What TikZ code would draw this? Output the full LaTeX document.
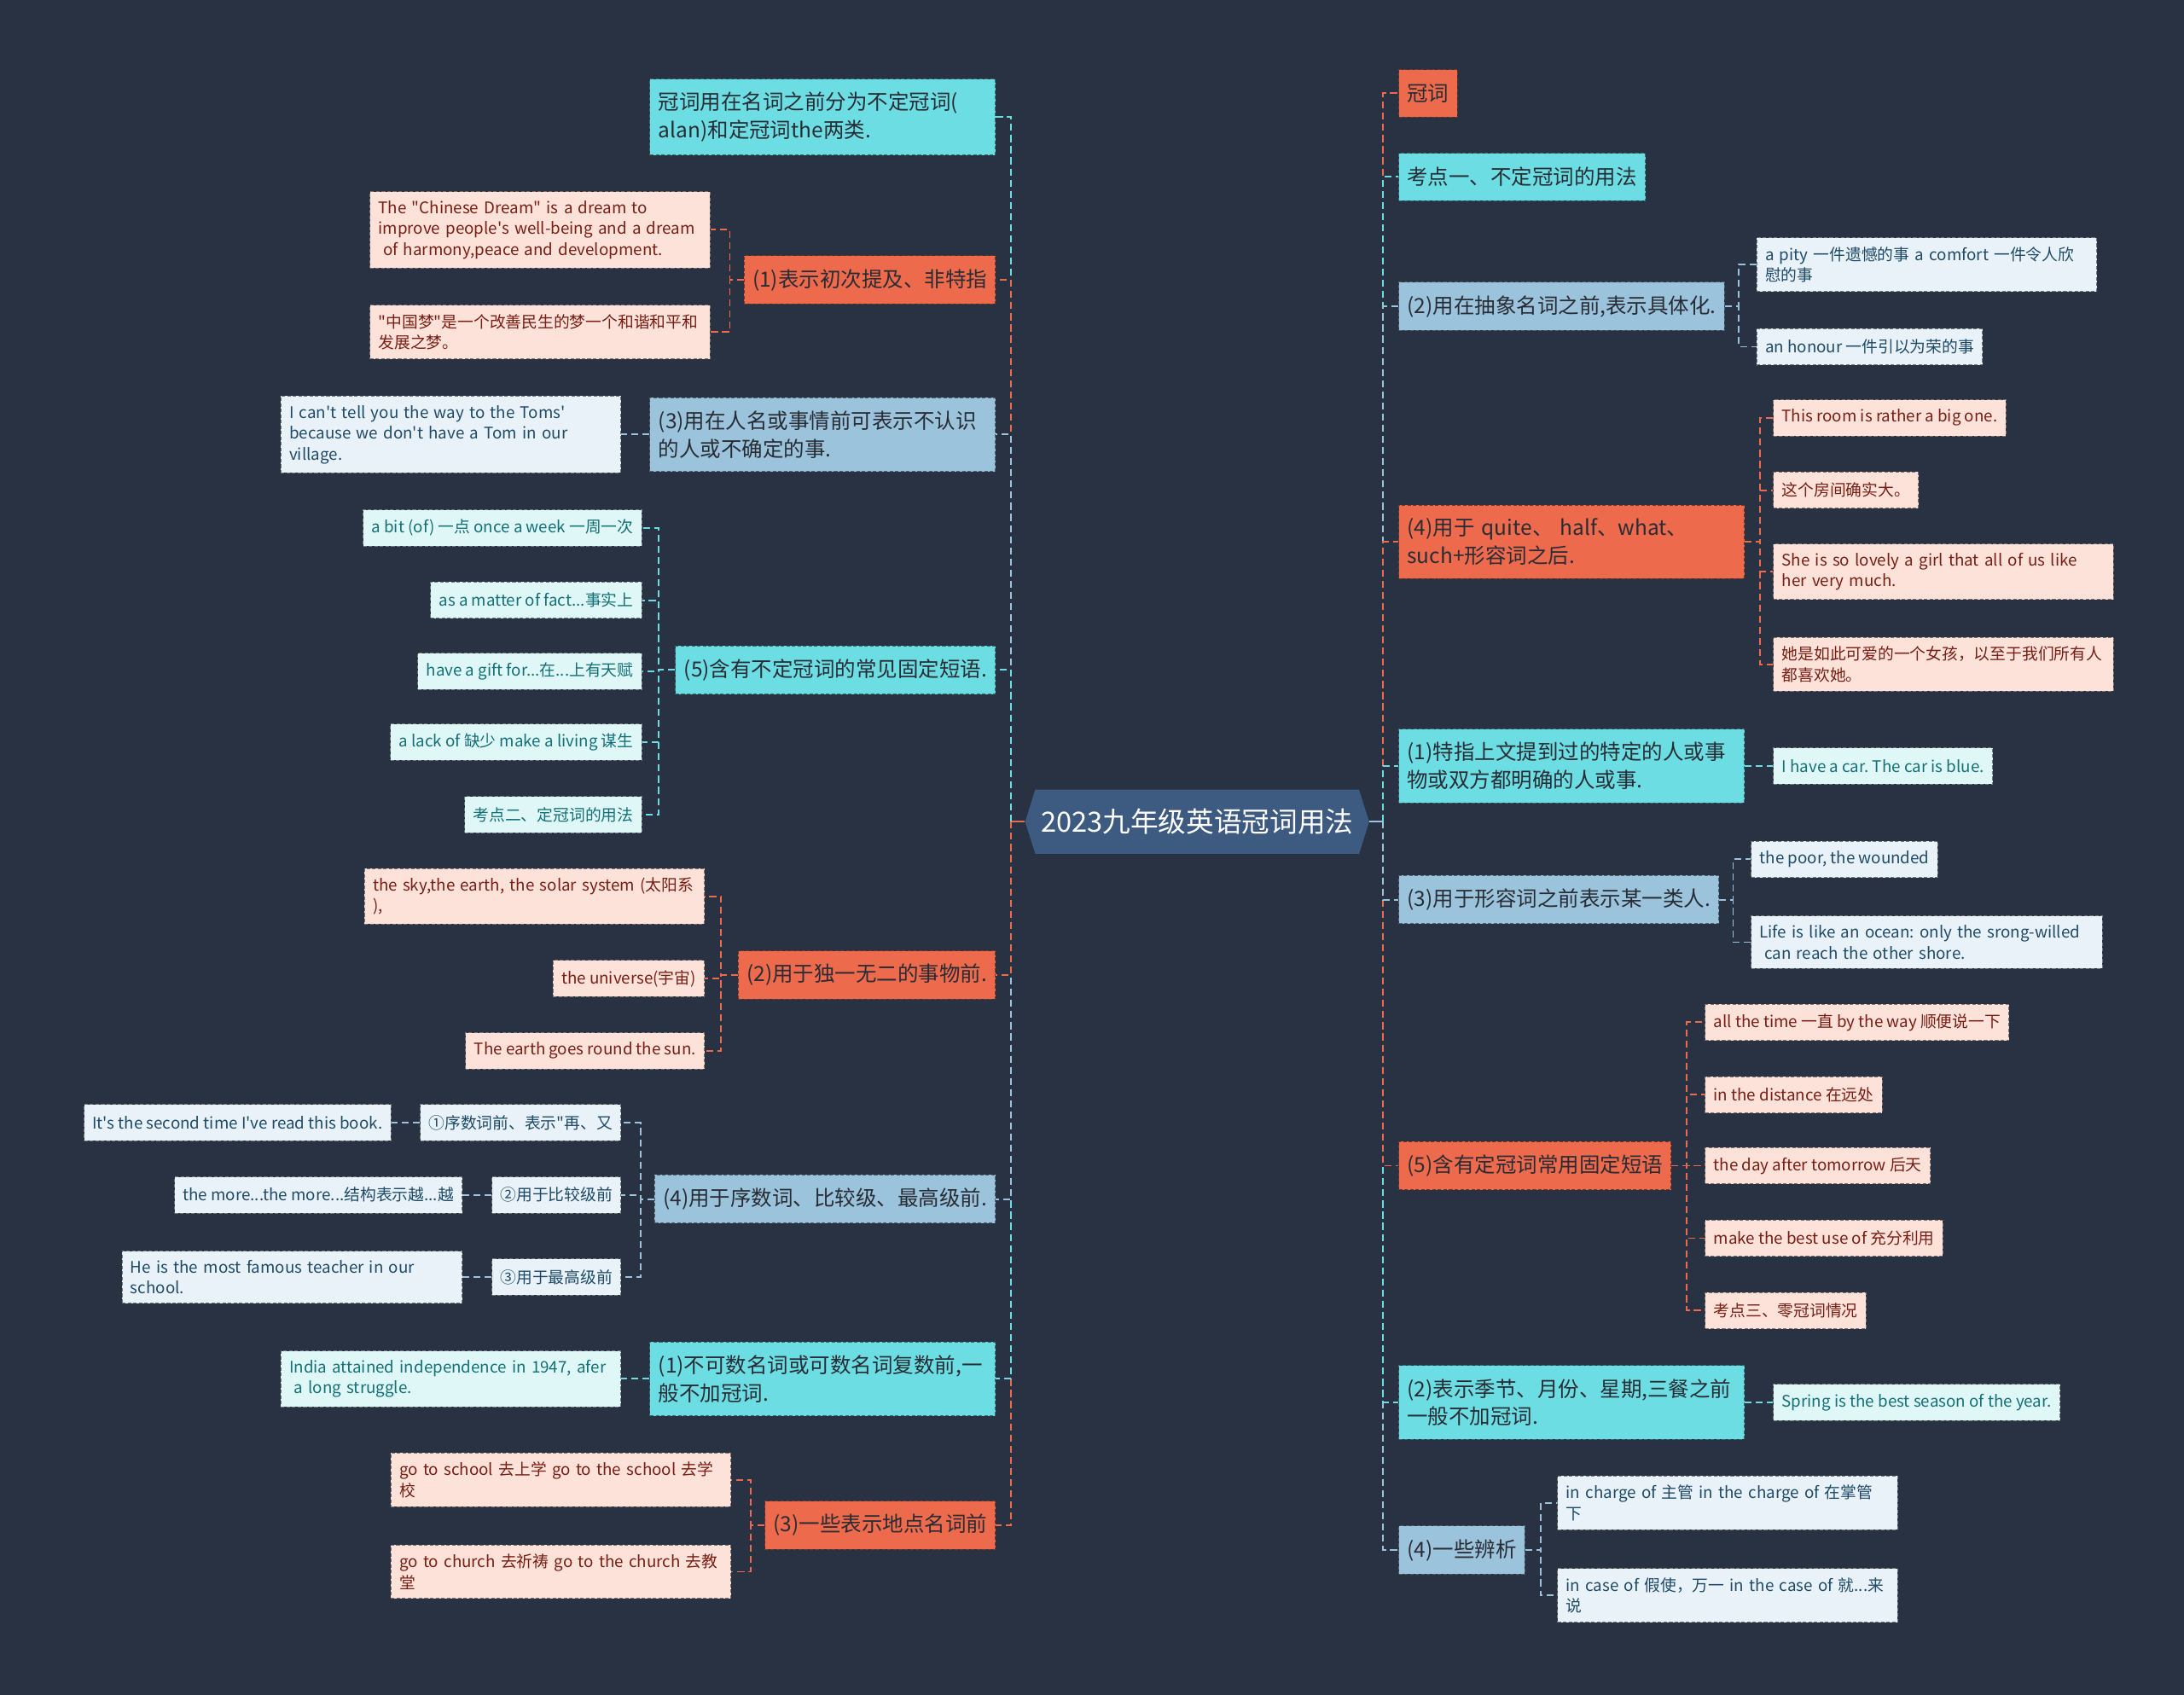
\documentclass[tikz,border=0pt]{standalone}
\usepackage{fontspec}
\newfontfamily\mapfont{Noto Sans CJK SC}
\usepackage{tikz}
\usetikzlibrary{shapes.symbols}
\definecolor{MapBg}{RGB}{41,50,66}
\definecolor{MapRoot}{RGB}{61,90,128}
\definecolor{MapCyan}{RGB}{108,222,227}
\definecolor{MapRed}{RGB}{238,106,77}
\definecolor{MapBlue}{RGB}{156,195,220}
\definecolor{MapInk}{RGB}{40,44,52}
\definecolor{PinkBg}{RGB}{253,226,218}
\definecolor{PinkInk}{RGB}{120,30,20}
\definecolor{AquaBg}{RGB}{224,247,248}
\definecolor{AquaInk}{RGB}{18,112,118}
\definecolor{IceBg}{RGB}{233,242,248}
\definecolor{IceInk}{RGB}{30,74,104}

\tikzset{
  box/.style={align=left, inner xsep=6pt, draw, line width=0.6pt,
              dash pattern=on 2.5pt off 1.5pt},
  topic/.style={box, font=\mapfont\fontsize{15}{20}\selectfont\frenchspacing,
                inner ysep=9.5pt, minimum height=34pt, text=MapInk},
  leaf/.style={box, font=\mapfont\fontsize{11.5}{15}\selectfont\frenchspacing,
               inner ysep=6.5pt, minimum height=26pt},
  cyantopic/.style={topic, fill=MapCyan, draw=MapCyan!50!black},
  redtopic/.style={topic, fill=MapRed, draw=MapRed!50!black},
  bluetopic/.style={topic, fill=MapBlue, draw=MapBlue!50!black},
  pinkleaf/.style={leaf, fill=PinkBg, text=PinkInk, draw=PinkBg!50!black},
  aqualeaf/.style={leaf, fill=AquaBg, text=AquaInk, draw=AquaBg!50!black},
  iceleaf/.style={leaf, fill=IceBg, text=IceInk, draw=IceBg!50!black},
  twoline/.style={text width=236pt},
  wide/.style={text width=232pt},
  lside/.style={anchor=east},
  rside/.style={anchor=west},
  conn/.style={line width=1.1pt, dash pattern=on 5pt off 3pt},
  root/.style={signal, signal to=west and east, signal pointer angle=145,
               fill=MapRoot, text=white, font=\mapfont\fontsize{20}{24}\selectfont,
               minimum width=247pt, minimum height=46pt, inner xsep=4pt}
}

\begin{document}
\begin{tikzpicture}[x=1pt, y=-1pt]
  \fill[MapBg] (0,0) rectangle (1568,1217);
  \useasboundingbox (0,0) rectangle (1568,1217);

  % Root
  \node[root] (root) at (859.5,590) {2023九年级英语冠词用法};
  \coordinate (lhub) at (726,590);
  \coordinate (rhub) at (993,590);

  % Left side: topics
  \node[cyantopic, twoline, lside] (a1) at (715,84) {冠词用在名词之前分为不定冠词(\\alan)和定冠词the两类.};
  \node[redtopic, lside] (a2) at (715,201) {(1)表示初次提及、非特指};
  \node[bluetopic, twoline, lside] (a3) at (715,312) {(3)用在人名或事情前可表示不认识\\的人或不确定的事.};
  \node[cyantopic, lside] (a4) at (715,481) {(5)含有不定冠词的常见固定短语.};
  \node[redtopic, lside] (a5) at (715,700) {(2)用于独一无二的事物前.};
  \node[bluetopic, lside] (a6) at (715,861) {(4)用于序数词、比较级、最高级前.};
  \node[cyantopic, twoline, lside] (a7) at (715,990) {(1)不可数名词或可数名词复数前,一\\般不加冠词.};
  \node[redtopic, lside] (a8) at (715,1095) {(3)一些表示地点名词前};

  % Left side: details
  \node[pinkleaf, wide, lside] (a2l1) at (510,165) {The "Chinese Dream" is a dream to\\improve people's well-being and a dream\\\hspace*{0.3em}of harmony,peace and development.};
  \node[pinkleaf, wide, lside] (a2l2) at (510,238.5) {"中国梦"是一个改善民生的梦一个和谐和平和\\发展之梦。};
  \node[iceleaf, wide, lside] (a3l) at (446,312) {I can't tell you the way to the Toms'\\because we don't have a Tom in our\\village.};
  \foreach \i/\y/\t in {1/379/{a bit (of) 一点 once a week 一周一次},
                        2/431/{as a matter of fact...事实上},
                        3/482/{have a gift for...在...上有天赋},
                        4/533/{a lack of 缺少 make a living 谋生},
                        5/585/{考点二、定冠词的用法}}
    \node[aqualeaf, lside] (a4l\i) at (461,\y) {\t};
  \node[pinkleaf, wide, lside] (a5l1) at (506,643.5) {the sky,the earth, the solar system (太阳系\\),};
  \node[pinkleaf, lside] (a5l2) at (506,702.5) {the universe(宇宙)};
  \node[pinkleaf, lside] (a5l3) at (506,754.5) {The earth goes round the sun.};
  \node[iceleaf, lside] (a6s1) at (446,806) {①序数词前、表示"再、又};
  \node[iceleaf, lside] (a6s2) at (446,858) {②用于比较级前};
  \node[iceleaf, lside] (a6s3) at (446,917) {③用于最高级前};
  \node[iceleaf, lside] (a6e1) at (281,806) {It's the second time I've read this book.};
  \node[iceleaf, lside] (a6e2) at (332,858) {the more...the more...结构表示越...越};
  \node[iceleaf, wide, lside] (a6e3) at (332,917) {He is the most famous teacher in our\\school.};
  \node[aqualeaf, wide, lside] (a7l) at (446,990) {India attained independence in 1947, afer\\\hspace*{0.3em}a long struggle.};
  \node[pinkleaf, wide, lside] (a8l1) at (525,1062.5) {go to school 去上学 go to the school 去学\\校};
  \node[pinkleaf, wide, lside] (a8l2) at (525,1128.5) {go to church 去祈祷 go to the church 去教\\堂};

  % Right side: topics
  \node[redtopic, rside] (b1) at (1004,67) {冠词};
  \node[cyantopic, rside] (b2) at (1004,127) {考点一、不定冠词的用法};
  \node[bluetopic, rside] (b3) at (1004,220) {(2)用在抽象名词之前,表示具体化.};
  \node[redtopic, twoline, rside] (b4) at (1004,389) {(4)用于 quite、 half、what、\\such+形容词之后.};
  \node[cyantopic, twoline, rside] (b5) at (1004,550) {(1)特指上文提到过的特定的人或事\\物或双方都明确的人或事.};
  \node[bluetopic, rside] (b6) at (1004,646) {(3)用于形容词之前表示某一类人.};
  \node[redtopic, rside] (b7) at (1004,837) {(5)含有定冠词常用固定短语};
  \node[cyantopic, twoline, rside] (b8) at (1004,1007) {(2)表示季节、月份、星期,三餐之前\\一般不加冠词.};
  \node[bluetopic, rside] (b9) at (1004,1113) {(4)一些辨析};

  % Right side: details
  \node[iceleaf, wide, rside] (b3l1) at (1261,190) {a pity 一件遗憾的事 a comfort 一件令人欣\\慰的事};
  \node[iceleaf, rside] (b3l2) at (1261,249) {an honour 一件引以为荣的事};
  \node[pinkleaf, rside] (b4l1) at (1273,300) {This room is rather a big one.};
  \node[pinkleaf, rside] (b4l2) at (1273,352) {这个房间确实大。};
  \node[pinkleaf, wide, rside] (b4l3) at (1273,410.5) {She is so lovely a girl that all of us like\\her very much.};
  \node[pinkleaf, wide, rside] (b4l4) at (1273,477) {她是如此可爱的一个女孩，以至于我们所有人\\都喜欢她。};
  \node[aqualeaf, rside] (b5l) at (1273,550) {I have a car. The car is blue.};
  \node[iceleaf, rside] (b6l1) at (1257,617) {the poor, the wounded};
  \node[iceleaf, text width=240pt, rside] (b6l2) at (1257,676.5) {Life is like an ocean: only the srong-willed\\\hspace*{0.3em}can reach the other shore.};
  \foreach \i/\y/\t in {1/734/{all the time 一直 by the way 顺便说一下},
                        2/786/{in the distance 在远处},
                        3/837/{the day after tomorrow 后天},
                        4/889/{make the best use of 充分利用},
                        5/941/{考点三、零冠词情况}}
    \node[pinkleaf, rside] (b7l\i) at (1224,\y) {\t};
  \node[aqualeaf, rside] (b8l) at (1273,1007) {Spring is the best season of the year.};
  \node[iceleaf, wide, rside] (b9l1) at (1118,1079) {in charge of 主管 in the charge of 在掌管\\下};
  \node[iceleaf, wide, rside] (b9l2) at (1118,1145.5) {in case of 假使，万一 in the case of 就...来\\说};

  % Connectors from the root, outer ones first
  \draw[line width=1.4pt, MapRed] (root.west) -- (lhub);
  \draw[line width=1.4pt, MapBlue] (root.east) -- (rhub);
  \foreach \n/\c in {a1/MapCyan, a2/MapRed, a3/MapBlue, a4/MapCyan,
                     a8/MapRed, a7/MapCyan, a6/MapBlue, a5/MapRed}
    \draw[conn, draw=\c] (lhub) |- (\n.east);
  \foreach \n/\c in {b1/MapRed, b2/MapCyan, b3/MapBlue, b4/MapRed, b5/MapCyan,
                     b9/MapBlue, b8/MapCyan, b7/MapRed, b6/MapBlue}
    \draw[conn, draw=\c] (rhub) |- (\n.west);

  % Connectors to the details
  \foreach \n in {a2l1,a2l2} \draw[conn, draw=MapRed] (a2.west) -- ++(-10,0) |- (\n.east);
  \draw[conn, draw=MapBlue] (a3.west) -- (a3l.east);
  \foreach \i in {1,...,5} \draw[conn, draw=MapCyan] (a4.west) -- ++(-12,0) |- (a4l\i.east);
  \foreach \n in {a5l1,a5l2,a5l3} \draw[conn, draw=MapRed] (a5.west) -- ++(-12,0) |- (\n.east);
  \foreach \i in {1,2,3} {
    \draw[conn, draw=MapBlue] (a6.west) -- ++(-10,0) |- (a6s\i.east);
    \draw[conn, draw=MapBlue] (a6s\i.west) -- (a6e\i.east);
  }
  \draw[conn, draw=MapCyan] (a7.west) -- (a7l.east);
  \foreach \n in {a8l1,a8l2} \draw[conn, draw=MapRed] (a8.west) -- ++(-10,0) |- (\n.east);

  \foreach \n in {b3l1,b3l2} \draw[conn, draw=MapBlue] (b3.east) -- ++(10,0) |- (\n.west);
  \foreach \n in {b4l1,b4l2,b4l3,b4l4} \draw[conn, draw=MapRed] (b4.east) -- ++(11,0) |- (\n.west);
  \draw[conn, draw=MapCyan] (b5.east) -- (b5l.west);
  \foreach \n in {b6l1,b6l2} \draw[conn, draw=MapBlue] (b6.east) -- ++(10,0) |- (\n.west);
  \foreach \i in {1,...,5} \draw[conn, draw=MapRed] (b7.east) -- ++(11,0) |- (b7l\i.west);
  \draw[conn, draw=MapCyan] (b8.east) -- (b8l.west);
  \foreach \n in {b9l1,b9l2} \draw[conn, draw=MapBlue] (b9.east) -- ++(11,0) |- (\n.west);
\end{tikzpicture}
\end{document}
